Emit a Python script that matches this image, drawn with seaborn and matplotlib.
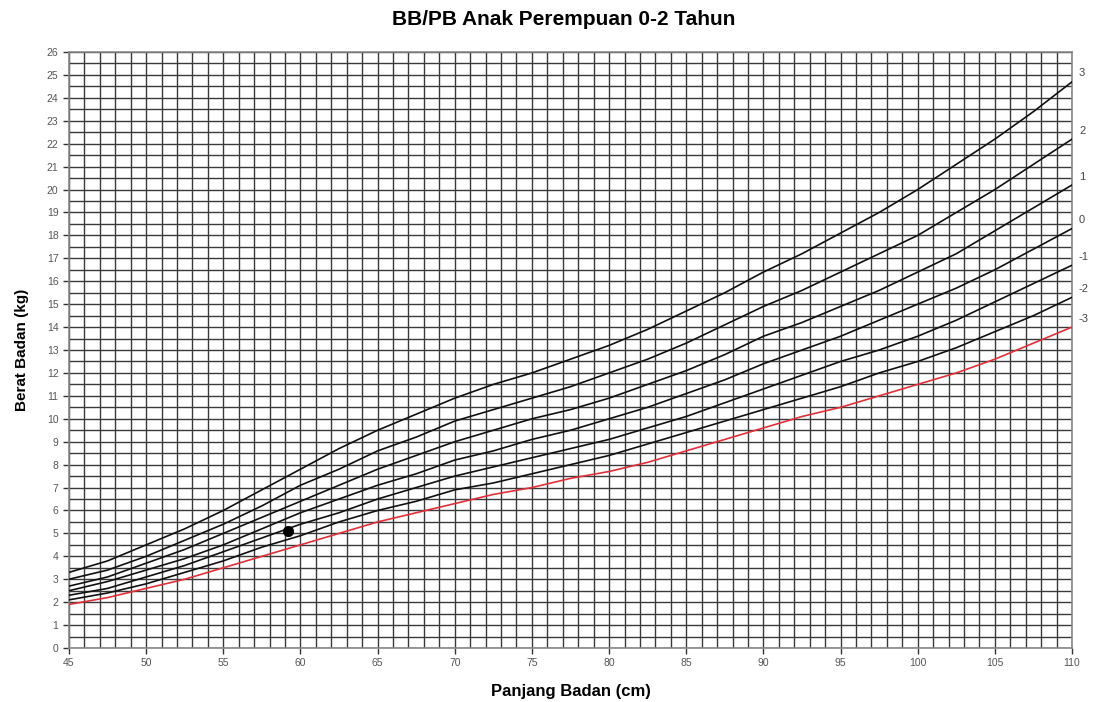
import matplotlib
matplotlib.use("Agg")
import matplotlib.pyplot as plt
import seaborn as sns
import pandas as pd
import numpy as np

# ---- data ----
panjang = [45.0, 47.5, 50.0, 52.5, 55.0, 57.5, 60.0, 62.5, 65.0, 67.5, 70.0, 72.5, 75.0,
           77.5, 80.0, 82.5, 85.0, 87.5, 90.0, 92.5, 95.0, 97.5, 100.0, 102.5, 105.0, 107.5, 110.0]
sd_min3 = [1.9, 2.2, 2.6, 3.0, 3.5, 4.0, 4.5, 5.0, 5.5, 5.9, 6.3, 6.7, 7.0,
           7.4, 7.7, 8.1, 8.6, 9.1, 9.6, 10.1, 10.5, 11.0, 11.5, 12.0, 12.6, 13.3, 14.0]
sd_min2 = [2.1, 2.4, 2.8, 3.3, 3.8, 4.4, 4.9, 5.5, 6.0, 6.4, 6.9, 7.2, 7.6,
           8.0, 8.4, 8.9, 9.4, 9.9, 10.4, 10.9, 11.4, 12.0, 12.5, 13.1, 13.8, 14.5, 15.3]
sd_min1 = [2.3, 2.6, 3.1, 3.6, 4.2, 4.8, 5.4, 5.9, 6.5, 7.0, 7.5, 7.9, 8.3,
           8.7, 9.1, 9.6, 10.1, 10.7, 11.3, 11.9, 12.5, 13.0, 13.6, 14.3, 15.1, 15.9, 16.7]
sd_0    = [2.5, 2.9, 3.4, 3.9, 4.5, 5.2, 5.9, 6.5, 7.1, 7.6, 8.2, 8.6, 9.1,
           9.5, 10.0, 10.5, 11.1, 11.7, 12.4, 13.0, 13.6, 14.3, 15.0, 15.7, 16.5, 17.4, 18.3]
sd_plus1 = [2.7, 3.1, 3.7, 4.3, 5.0, 5.7, 6.4, 7.1, 7.8, 8.4, 9.0, 9.5, 10.0,
            10.4, 10.9, 11.5, 12.1, 12.8, 13.6, 14.2, 14.9, 15.6, 16.4, 17.2, 18.2, 19.2, 20.2]
sd_plus2 = [3.0, 3.4, 4.0, 4.7, 5.4, 6.2, 7.1, 7.8, 8.6, 9.2, 9.9, 10.4, 10.9,
            11.4, 12.0, 12.6, 13.3, 14.1, 14.9, 15.6, 16.4, 17.2, 18.0, 19.0, 20.0, 21.1, 22.2]
sd_plus3 = [3.3, 3.8, 4.5, 5.2, 6.0, 6.9, 7.8, 8.7, 9.5, 10.2, 10.9, 11.5, 12.0,
            12.6, 13.2, 13.9, 14.7, 15.5, 16.4, 17.2, 18.1, 19.0, 20.0, 21.1, 22.2, 23.4, 24.7]

sd_labels = ["3", "2", "1", "0", "-1", "-2", "-3"]
sd_series = [sd_plus3, sd_plus2, sd_plus1, sd_0, sd_min1, sd_min2, sd_min3]

anak_panjang = [59.2]
anak_berat = [5.1]

x_ticks = [45, 50, 55, 60, 65, 70, 75, 80, 85, 90, 95, 100, 105, 110]
y_ticks = list(range(0, 27))

title = "BB/PB Anak Perempuan 0-2 Tahun"
xlabel = "Panjang Badan (cm)"
ylabel = "Berat Badan (kg)"

# ---- build long-form frame ----
rows = []
for lab, ser in zip(sd_labels, sd_series):
    for x, y in zip(panjang, ser):
        rows.append({"panjang": x, "berat": y, "sd": lab})
df = pd.DataFrame(rows)

palette = {lab: "#111111" for lab in sd_labels}
palette["-3"] = "#e0303a"

sns.set_style("white")
plt.rcParams["font.family"] = ["Liberation Sans", "DejaVu Sans"]

fig = plt.figure(figsize=(10.93, 7.02), dpi=100)
ax = fig.add_axes([0.0631, 0.0769, 0.9177, 0.849])

# grid
ax.set_xticks(np.arange(45, 110.01, 1), minor=True)
ax.set_yticks(np.arange(0, 26.01, 0.5), minor=True)
ax.grid(which="minor", color="#3a3a3a", linewidth=1.0)
ax.grid(which="major", color="#3a3a3a", linewidth=1.0)
ax.set_axisbelow(True)

sns.lineplot(data=df, x="panjang", y="berat", hue="sd", palette=palette,
             linewidth=1.2, legend=False, ax=ax, zorder=3)
sns.scatterplot(x=anak_panjang, y=anak_berat, color="black", s=55,
                edgecolor="black", ax=ax, zorder=4)

ax.set_xlim(45, 110)
ax.set_ylim(0, 26)
ax.set_xticks(x_ticks)
ax.set_yticks(y_ticks)
ax.tick_params(axis="both", which="major", labelsize=7.5, labelcolor="#555555",
               length=4, width=1, color="#333333", direction="out", left=True, bottom=True)
ax.tick_params(which="minor", length=0)
for s in ax.spines.values():
    s.set_color("#888888")
    s.set_linewidth(1.2)

ax.set_xlabel(xlabel, fontsize=12, fontweight="bold", labelpad=11, color="black")
ax.set_ylabel(ylabel, fontsize=11, fontweight="bold", labelpad=13, color="black")
fig.text(0.516, 0.972, title, ha="center", va="center", fontsize=15,
         fontweight="bold", color="black")

# SD labels at right
for lab, ser in zip(sd_labels, sd_series):
    ax.annotate(lab, xy=(110, ser[-1]), xytext=(5, 6), textcoords="offset points",
                fontsize=8, color="#444444", ha="left", va="center", annotation_clip=False)

fig.savefig("out.png", dpi=100, facecolor="white")
